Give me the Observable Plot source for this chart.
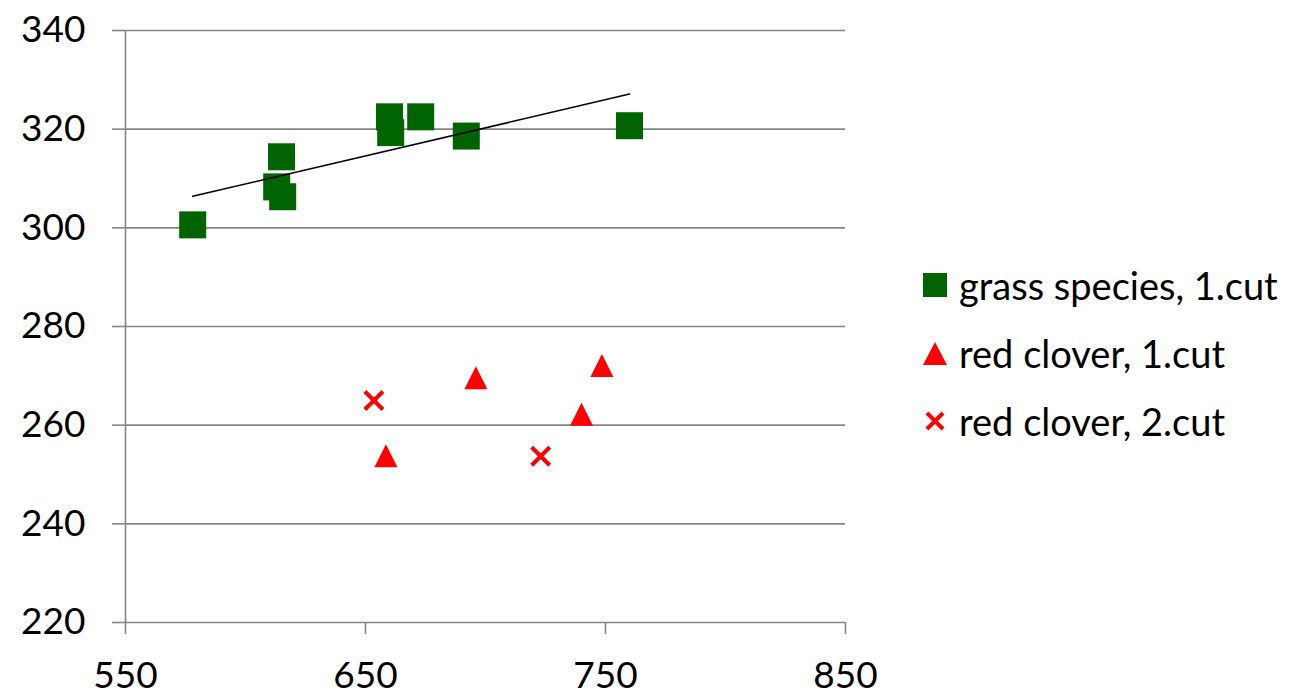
<!DOCTYPE html>
<html>
<head>
<meta charset="utf-8">
<script src="https://cdn.jsdelivr.net/npm/d3@7"></script>
<script src="https://cdn.jsdelivr.net/npm/@observablehq/plot@0.6"></script>
<style>
  html, body { margin: 0; padding: 0; background: #fff; }
  #wrap { position: relative; width: 1297px; height: 699px; font-family: Lato, "Open Sans", sans-serif; }
  #legend { position: absolute; left: 922px; top: 251px; }
  .row { display: flex; align-items: center; height: 68px; font-size: 38px; color: #000; white-space: nowrap; }
  .row svg { margin-right: 11px; flex: none; }
</style>
</head>
<body>
<div id="wrap"></div>
<script>
// ---- data ----
const grassX = [578, 615, 613, 615.5, 660, 660.5, 673, 692, 760];
const grassY = [300.6, 314.4, 308.3, 306.3, 322.5, 319.3, 322.5, 318.6, 320.7];
const clover1X = [696, 748.5, 740, 658.5];
const clover1Y = [269.6, 272.1, 262.2, 253.8];
const clover2X = [653.5, 723];
const clover2Y = [265, 253.7];
const xTicks = [550, 650, 750, 850];
const yTicks = [220, 240, 260, 280, 300, 320, 340];
const seriesNames = ["grass species, 1.cut", "red clover, 1.cut", "red clover, 2.cut"];
const seriesColors = ["#006400", "#ff0000", "#ff0000"];

const grass = grassX.map((x, i) => ({x, y: grassY[i]}));
const clover1 = clover1X.map((x, i) => ({x, y: clover1Y[i]}));
const clover2 = clover2X.map((x, i) => ({x, y: clover2Y[i]}));

// custom marker shapes (Excel-like), centered on the bounding box
const squareSym = {draw(ctx) { const h = 13.5; ctx.moveTo(-h, -h); ctx.lineTo(h, -h); ctx.lineTo(h, h); ctx.lineTo(-h, h); ctx.closePath(); }};
const triSym = {draw(ctx) { const w = 11.5, h = 11.5; ctx.moveTo(0, -h); ctx.lineTo(w, h); ctx.lineTo(-w, h); ctx.closePath(); }};
const crossSym = {draw(ctx) { const h = 9; ctx.moveTo(-h, -h); ctx.lineTo(h, h); ctx.moveTo(h, -h); ctx.lineTo(-h, h); }};

const gray = "#868686";
const chart = Plot.plot({
  width: 1297,
  height: 699,
  marginLeft: 125,
  marginRight: 452,
  marginTop: 30,
  marginBottom: 77,
  style: {fontFamily: "Lato, 'Open Sans', sans-serif", background: "#fff", color: "#000"},
  x: {domain: [550, 850]},
  y: {domain: [220, 340]},
  marks: [
    Plot.gridY(yTicks, {stroke: gray, strokeOpacity: 1, strokeWidth: 1.6}),
    Plot.ruleX([550], {stroke: gray, strokeWidth: 1.6}),
    Plot.axisY({ticks: yTicks, tickSize: 13, tickPadding: 27, fontSize: 37, stroke: gray, strokeWidth: 1.6, fill: "#000", label: null, tickFormat: d => String(d)}),
    Plot.axisX({ticks: xTicks, tickSize: 12, tickPadding: 27, fontSize: 37, stroke: gray, strokeWidth: 1.6, fill: "#000", label: null, tickFormat: d => String(d)}),
    Plot.dot(grass, {x: "x", y: "y", symbol: squareSym, fill: seriesColors[0], stroke: "none", r: 10}),
    Plot.dot(clover1, {x: "x", y: "y", symbol: triSym, fill: seriesColors[1], stroke: "none", r: 10}),
    Plot.dot(clover2, {x: "x", y: "y", symbol: crossSym, fill: "none", stroke: seriesColors[2], strokeWidth: 4, r: 10}),
    Plot.linearRegressionY(grass, {x: "x", y: "y", stroke: "#000", strokeWidth: 1.6, ci: 0})
  ]
});
const wrap = document.getElementById("wrap");
wrap.appendChild(chart);

// legend
const legend = document.createElement("div");
legend.id = "legend";
const icons = [
  `<svg width="26" height="26"><rect x="1" y="1" width="24" height="24" fill="${seriesColors[0]}"/></svg>`,
  `<svg width="26" height="26"><path d="M13,2 L25,25 L1,25 Z" fill="${seriesColors[1]}"/></svg>`,
  `<svg width="26" height="26"><path d="M5,5 L21,21 M21,5 L5,21" stroke="${seriesColors[2]}" stroke-width="4"/></svg>`
];
seriesNames.forEach((name, i) => {
  const row = document.createElement("div");
  row.className = "row";
  row.innerHTML = icons[i] + `<span>${name}</span>`;
  legend.appendChild(row);
});
wrap.appendChild(legend);
</script>
</body>
</html>
